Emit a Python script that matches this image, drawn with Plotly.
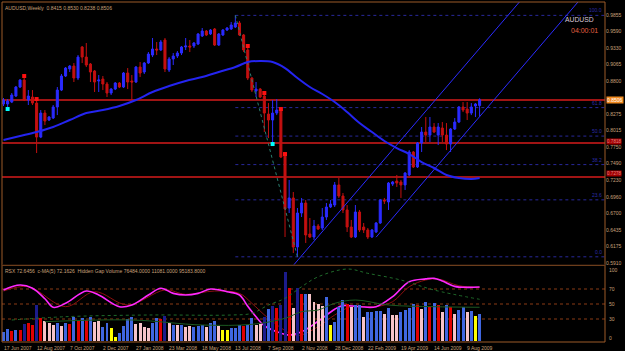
import plotly.graph_objects as go

# ---------------- data ----------------
date_labels = ["17 Jun 2007", "12 Aug 2007", "7 Oct 2007", "2 Dec 2007", "27 Jan 2008",
               "23 Mar 2008", "18 May 2008", "13 Jul 2008", "7 Sep 2008", "2 Nov 2008",
               "28 Dec 2008", "22 Feb 2009", "19 Apr 2009", "14 Jun 2009", "9 Aug 2009"]
date_bars = [0, 8, 16, 24, 32, 40, 48, 56, 64, 72, 80, 88, 96, 104, 112]

opens = [0.8439, 0.8439, 0.8470, 0.8566, 0.8709, 0.8820, 0.8502, 0.8550, 0.8454, 0.7913,
         0.8295, 0.8184, 0.8216, 0.8391, 0.8661, 0.8884, 0.8996, 0.9043, 0.8852, 0.9346,
         0.9186, 0.9075, 0.8964, 0.8805, 0.8836, 0.8757, 0.8614, 0.8677, 0.8773, 0.8709,
         0.8932, 0.8805, 0.8789, 0.9027, 0.8948, 0.9091, 0.9218, 0.9314, 0.9298, 0.9457,
         0.8980, 0.9155, 0.9202, 0.9250, 0.9346, 0.9362, 0.9362, 0.9393, 0.9521, 0.9600,
         0.9553, 0.9632, 0.9377, 0.9537, 0.9616, 0.9632, 0.9664, 0.9728, 0.9537, 0.9298,
         0.8852, 0.8645, 0.8677, 0.8566, 0.8279, 0.8184, 0.8295, 0.8359, 0.7659, 0.6784,
         0.6944, 0.6164, 0.6705, 0.6864, 0.6371, 0.6323, 0.6498, 0.6466, 0.6641, 0.6800,
         0.6832, 0.7151, 0.6975, 0.6753, 0.6482, 0.6323, 0.6721, 0.6482, 0.6435, 0.6323,
         0.6403, 0.6546, 0.6912, 0.6880, 0.7166, 0.7214, 0.7198, 0.7151, 0.7310, 0.7675,
         0.7437, 0.7818, 0.7993, 0.7945, 0.8073, 0.7945, 0.8057, 0.7945, 0.7802, 0.8041,
         0.8152, 0.8391, 0.8359, 0.8295, 0.8407, 0.8415]
highs = [0.8534, 0.8518, 0.8614, 0.8725, 0.8836, 0.8884, 0.8661, 0.8661, 0.8518, 0.8343,
         0.8343, 0.8248, 0.8423, 0.8709, 0.8916, 0.9027, 0.9059, 0.9091, 0.9218, 0.9362,
         0.9409, 0.9091, 0.8980, 0.8900, 0.8884, 0.8789, 0.8693, 0.8789, 0.8789, 0.8948,
         0.9011, 0.8900, 0.9043, 0.9107, 0.9107, 0.9266, 0.9489, 0.9425, 0.9457, 0.9489,
         0.9186, 0.9250, 0.9282, 0.9362, 0.9489, 0.9457, 0.9425, 0.9568, 0.9648, 0.9616,
         0.9632, 0.9648, 0.9568, 0.9632, 0.9664, 0.9744, 0.9849, 0.9760, 0.9553, 0.9377,
         0.8868, 0.8789, 0.8693, 0.8614, 0.8454, 0.8502, 0.8518, 0.8375, 0.7675, 0.7230,
         0.7039, 0.6784, 0.6944, 0.6912, 0.6625, 0.6594, 0.6530, 0.6784, 0.6864, 0.6912,
         0.7198, 0.7262, 0.7023, 0.6832, 0.6594, 0.6832, 0.6753, 0.6546, 0.6466, 0.6450,
         0.6562, 0.6928, 0.6944, 0.7198, 0.7214, 0.7310, 0.7230, 0.7357, 0.7706, 0.7691,
         0.7834, 0.8073, 0.8232, 0.8232, 0.8136, 0.8136, 0.8152, 0.8136, 0.8057, 0.8216,
         0.8407, 0.8470, 0.8470, 0.8454, 0.8454, 0.8530]
lows = [0.8407, 0.8391, 0.8454, 0.8550, 0.8693, 0.8486, 0.8423, 0.8423, 0.7659, 0.7897,
        0.8104, 0.8168, 0.8200, 0.8263, 0.8645, 0.8868, 0.8948, 0.8789, 0.8820, 0.9091,
        0.9027, 0.8789, 0.8630, 0.8630, 0.8661, 0.8550, 0.8582, 0.8661, 0.8693, 0.8693,
        0.8677, 0.8502, 0.8773, 0.8868, 0.8916, 0.9075, 0.9186, 0.9218, 0.9282, 0.8948,
        0.8948, 0.9059, 0.9171, 0.9218, 0.9298, 0.9266, 0.9330, 0.9377, 0.9505, 0.9521,
        0.9537, 0.9362, 0.9362, 0.9521, 0.9600, 0.9616, 0.9648, 0.9521, 0.9266, 0.8820,
        0.8630, 0.8550, 0.8534, 0.7993, 0.7897, 0.7818, 0.8263, 0.7579, 0.6323, 0.6705,
        0.6069, 0.6005, 0.6641, 0.6228, 0.6307, 0.6276, 0.6435, 0.6435, 0.6594, 0.6784,
        0.6800, 0.6944, 0.6705, 0.6403, 0.6307, 0.6307, 0.6403, 0.6387, 0.6291, 0.6307,
        0.6387, 0.6530, 0.6848, 0.6753, 0.7135, 0.7119, 0.6944, 0.7071, 0.7294, 0.7421,
        0.7421, 0.7675, 0.7834, 0.7834, 0.7977, 0.7786, 0.7834, 0.7706, 0.7675, 0.8025,
        0.8136, 0.8311, 0.8184, 0.8263, 0.8232, 0.8238]
closes = [0.8502, 0.8486, 0.8582, 0.8709, 0.8820, 0.8502, 0.8566, 0.8454, 0.7913, 0.8295,
          0.8168, 0.8232, 0.8391, 0.8661, 0.8884, 0.9011, 0.9043, 0.8852, 0.9186, 0.9186,
          0.9059, 0.8948, 0.8789, 0.8820, 0.8757, 0.8614, 0.8677, 0.8773, 0.8709, 0.8932,
          0.8789, 0.8789, 0.9027, 0.8932, 0.9091, 0.9234, 0.9314, 0.9298, 0.9425, 0.8996,
          0.9155, 0.9202, 0.9250, 0.9346, 0.9362, 0.9346, 0.9409, 0.9553, 0.9600, 0.9537,
          0.9616, 0.9377, 0.9553, 0.9616, 0.9648, 0.9696, 0.9728, 0.9537, 0.9298, 0.8852,
          0.8661, 0.8677, 0.8550, 0.8295, 0.8184, 0.8295, 0.8343, 0.7595, 0.6769, 0.6944,
          0.6164, 0.6705, 0.6864, 0.6355, 0.6323, 0.6498, 0.6450, 0.6641, 0.6800, 0.6848,
          0.7151, 0.6975, 0.6753, 0.6482, 0.6323, 0.6721, 0.6435, 0.6435, 0.6323, 0.6435,
          0.6546, 0.6912, 0.6896, 0.7182, 0.7198, 0.7182, 0.7151, 0.7341, 0.7675, 0.7437,
          0.7818, 0.7993, 0.7945, 0.8073, 0.7993, 0.8073, 0.7945, 0.7802, 0.8041, 0.8152,
          0.8391, 0.8343, 0.8295, 0.8391, 0.8439, 0.8506]

# moving average on price (sampled bars)
ma_bars = [0, 4, 8, 12, 16, 20, 24, 28, 32, 36, 40, 44, 48, 52, 56, 59, 62, 65, 68, 71,
           74, 77, 80, 83, 86, 89, 92, 95, 98, 101, 104, 107, 110, 113, 115]
ma_vals = [0.7866, 0.7929, 0.7993, 0.8073, 0.8184, 0.8295, 0.8343, 0.8407, 0.8502, 0.8630,
           0.8725, 0.8805, 0.8868, 0.8948, 0.9027, 0.9107, 0.9123, 0.9107, 0.9011, 0.8852,
           0.8709, 0.8598, 0.8470, 0.8311, 0.8136, 0.7993, 0.7850, 0.7738, 0.7643, 0.7516,
           0.7421, 0.7310, 0.7262, 0.7246, 0.7262]

# horizontal lines, fibonacci, channel
hlines = [0.8503, 0.7818, 0.7278]
hline_labels = ["0.8503", "0.7818", "0.7278"]
fib_low, fib_high = 0.6008, 0.9849
fib_start_bar = 56
fib_levels = [0.0, 0.236, 0.382, 0.5, 0.618, 1.0]
fib_texts = ["0.0", "23.6", "38.2", "50.0", "61.8", "100.0"]
fib_diag_bars = [56, 71]
chan_upper_bars, chan_upper_px = [70, 125], [0.5871, 1.0091]
chan_lower_bars, chan_lower_px = [90, 139], [0.6320, 1.0080]
cyan_bars, cyan_px = [1, 65], [0.8359, 0.7802]
sig_bars = [5, 8, 59, 63, 67, 68]
sig_px = [0.8884, 0.8518, 0.9362, 0.8614, 0.8359, 0.7643]

price_ticks = [0.9855, 0.9590, 0.9330, 0.9065, 0.8800, 0.8275, 0.8015, 0.7750, 0.7490,
               0.7230, 0.6960, 0.6700, 0.6435, 0.6175, 0.5910]
last_price = 0.8506

# lower panel: hidden gap volume (thousands) and colour codes
volume_k = [27.3, 34.8, 29.2, 32.0, 32.0, 48.7, 51.4, 45.9, 101.5, 65.4,
            57.0, 51.4, 45.9, 51.4, 43.1, 51.4, 48.7, 68.1, 57.0, 65.4,
            59.8, 68.1, 54.2, 57.0, 40.3, 51.4, 37.5, 12.5, 23.6, 43.1,
            62.6, 68.1, 48.7, 51.4, 40.3, 37.5, 51.4, 65.4, 62.6, 70.9,
            51.4, 45.9, 45.9, 45.9, 40.3, 43.1, 40.3, 43.1, 45.9, 40.3,
            51.4, 57.0, 43.1, 32.0, 32.0, 37.5, 37.5, 45.9, 43.1, 45.9,
            65.4, 45.9, 48.7, 68.1, 90.4, 98.7, 93.2, 101.5, 193.3, 148.8,
            93.2, 148.8, 132.1, 132.1, 132.1, 109.8, 104.3, 98.7, 123.8, 45.9,
            54.2, 95.9, 115.4, 104.3, 95.9, 101.5, 101.5, 68.1, 82.0, 82.0,
            84.8, 84.8, 76.5, 93.2, 73.7, 73.7, 82.0, 87.6, 93.2, 104.3,
            101.5, 90.4, 109.8, 95.9, 107.1, 101.5, 82.0, 101.5, 95.9, 76.5,
            87.6, 95.9, 82.0, 84.8, 70.9, 76.484]
volume_codes = ("BBRBRNRRNRPPPBPBRBRBRBPPBBYYBBBBPPPPBBRNPBPBPPBBBPBBPYYBBBRBBPPNBNRNNRPNRBPPPPBY"
                "BBBRPBBPBBBBPBPPBBBBRPBRBRPBRPBBPBYB")

rsx_bars = [0, 4, 7, 10, 12, 15, 20, 23, 28, 31, 35, 38, 41, 44, 47, 50, 54, 57, 59, 61,
            63, 66, 69, 72, 76, 80, 82, 86, 90, 94, 98, 102, 104, 106, 109, 112, 115]
rsx_vals = [68.7, 75.3, 71.0, 57.0, 45.6, 50.9, 67.3, 62.0, 46.4, 48.7, 62.0, 71.0, 64.2,
            62.0, 64.2, 70.0, 66.4, 62.0, 47.0, 33.0, 21.0, 13.0, 8.5, 13.0, 27.0, 43.0,
            47.8, 46.4, 46.4, 59.8, 79.8, 83.5, 84.2, 80.7, 73.5, 72.2, 72.65]
cma_bars = [0, 6, 15, 22, 30, 39, 44, 51, 57, 60, 64, 70, 72, 76, 80, 84, 90, 94, 98, 102,
            105, 110, 115]
cma_vals = [67.3, 73.1, 46.4, 66.4, 48.7, 68.7, 62.9, 67.3, 64.2, 50.9, 30.9, 8.7, 8.7,
            19.8, 35.3, 46.4, 46.4, 53.1, 73.1, 82.0, 83.3, 74.4, 72.16]
vma_long_bars = [2, 15, 35, 55, 60, 64, 68, 72, 76, 83, 88, 96, 104, 115]
vma_long_k = [59.8, 69.0, 73.7, 73.7, 78.4, 101.5, 120.1, 152.4, 180.0, 201.6, 189.7,
              171.0, 143.2, 117.4]
vma_short_bars = [10, 31, 48, 60, 68, 72, 76, 80, 85, 93, 104, 115]
vma_short_k = [55.1, 59.8, 45.9, 47.8, 64.5, 82.9, 87.6, 106.2, 115.4, 101.5, 96.8, 95.18]

# ---------------- styling ----------------
BG = "#000000"
FRAME = "#9c5a28"
TXT = "#c9a07a"
BLUE = "#2b2bff"
RED = "#c41010"
FONT = "Liberation Sans, Arial, sans-serif"
code_colors = {"B": "#3f66e0", "R": "#e00000", "P": "#f6c3c8", "Y": "#ffff00", "N": "#1c1c8c"}

n = len(closes)
idx = list(range(n))

fig = go.Figure()

# channel lines and fib diagonal (under candles)
fig.add_trace(go.Scatter(x=chan_upper_bars, y=chan_upper_px, mode="lines",
                         line=dict(color=BLUE, width=1), hoverinfo="skip"))
fig.add_trace(go.Scatter(x=chan_lower_bars, y=chan_lower_px, mode="lines",
                         line=dict(color=BLUE, width=1), hoverinfo="skip"))
fig.add_trace(go.Scatter(x=fib_diag_bars, y=[fib_high, fib_low], mode="lines",
                         line=dict(color="#2a7f70", width=1, dash="dot"), hoverinfo="skip"))

fig.add_trace(go.Candlestick(
    x=idx, open=opens, high=highs, low=lows, close=closes,
    increasing=dict(line=dict(color=BLUE, width=1), fillcolor=BLUE),
    decreasing=dict(line=dict(color=RED, width=1), fillcolor=RED),
    whiskerwidth=0, hoverinfo="skip"))

fig.add_trace(go.Scatter(x=ma_bars, y=ma_vals, mode="lines",
                         line=dict(color="#2424f0", width=2, shape="spline"), hoverinfo="skip"))

fig.add_trace(go.Scatter(x=cyan_bars, y=cyan_px, mode="markers",
                         marker=dict(symbol="square", size=4, color="#00ffff"), hoverinfo="skip"))
fig.add_trace(go.Scatter(x=sig_bars, y=sig_px, mode="markers",
                         marker=dict(symbol="square", size=4, color="#ff1010"), hoverinfo="skip"))

# lower panel
fig.add_trace(go.Bar(x=idx, y=volume_k, yaxis="y3", width=0.72,
                     marker=dict(color=[code_colors[c] for c in volume_codes], line=dict(width=0)),
                     hoverinfo="skip"))
fig.add_trace(go.Scatter(x=vma_long_bars, y=vma_long_k, yaxis="y3", mode="lines",
                         line=dict(color="#1f6b2a", width=1, dash="dot", shape="spline"),
                         hoverinfo="skip"))
fig.add_trace(go.Scatter(x=vma_short_bars, y=vma_short_k, yaxis="y3", mode="lines",
                         line=dict(color="#1c5a22", width=1, shape="spline"), hoverinfo="skip"))
fig.add_trace(go.Scatter(x=cma_bars, y=cma_vals, yaxis="y2", mode="lines",
                         line=dict(color="#8c1010", width=1, shape="spline"), hoverinfo="skip"))
fig.add_trace(go.Scatter(x=rsx_bars, y=rsx_vals, yaxis="y2", mode="lines",
                         line=dict(color="#ff28ff", width=1.6, shape="spline"), hoverinfo="skip"))

shapes = []
for lv in hlines:
    shapes.append(dict(type="line", xref="paper", x0=0, x1=1, yref="y", y0=lv, y1=lv,
                       line=dict(color="#a01414", width=2), layer="below"))
for f in fib_levels:
    p = fib_low + f * (fib_high - fib_low)
    shapes.append(dict(type="line", xref="x", x0=fib_start_bar, x1=146, yref="y", y0=p, y1=p,
                       line=dict(color="#28289a", width=1, dash="dot"), layer="below"))
for lv in [70, 50, 30]:
    shapes.append(dict(type="line", xref="paper", x0=0, x1=1, yref="y2", y0=lv, y1=lv,
                       line=dict(color="#8a3a14", width=1, dash="dot"), layer="below"))
# frame
for (x0, y0, x1, y1) in [(0, 0, 0, 1), (1, 0, 1, 1), (0, 1, 1, 1), (0, 0, 1, 0)]:
    shapes.append(dict(type="line", xref="paper", yref="paper", x0=x0, x1=x1, y0=y0, y1=y1,
                       line=dict(color=FRAME, width=1)))
shapes.append(dict(type="line", xref="paper", yref="paper", x0=0, x1=1, y0=0.2250, y1=0.2250,
                   line=dict(color=FRAME, width=1)))
shapes.append(dict(type="line", xref="paper", yref="paper", x0=0, x1=1, y0=0.2265, y1=0.2265,
                   line=dict(color="#3a2010", width=1)))

ann = []
ann.append(dict(text="AUDUSD,Weekly  0.8415 0.8530 0.8238 0.8506", xref="paper", yref="paper",
                x=0.002, y=0.997, xanchor="left", yanchor="top", showarrow=False,
                font=dict(size=5, color=TXT, family=FONT)))
ann.append(dict(text="RSX 72.6456  c-MA(5) 72.1626  Hidden Gap Volume 76484.0000 11081.0000 95183.8000",
                xref="paper", yref="paper", x=0.002, y=0.2235, xanchor="left", yanchor="top",
                showarrow=False, font=dict(size=5, color=TXT, family=FONT)))
ann.append(dict(text="AUDUSD", xref="paper", yref="y", x=0.985, y=0.9780, xanchor="right",
                yanchor="middle", showarrow=False, font=dict(size=6.8, color="#d8c8d8", family=FONT)))
ann.append(dict(text="04:00:01", xref="paper", yref="y", x=0.992, y=0.9610, xanchor="right",
                yanchor="middle", showarrow=False, font=dict(size=7, color="#e06040", family=FONT)))
for f, t in zip(fib_levels, fib_texts):
    p = fib_low + f * (fib_high - fib_low)
    ann.append(dict(text=t, xref="paper", yref="y", x=0.999, y=p, xanchor="right", yanchor="bottom",
                    showarrow=False, font=dict(size=5, color="#2c2ca8", family=FONT)))
for d, b in zip(date_labels, date_bars):
    ann.append(dict(text=d, xref="x", yref="paper", x=b, y=0, xanchor="left", yanchor="top",
                    xshift=-2, yshift=-1, showarrow=False, font=dict(size=5, color=TXT, family=FONT)))
for lv, lab in [(94.7, "100"), (70, "70"), (50, "50"), (30, "30"), (4.7, "0")]:
    ann.append(dict(text=lab, xref="paper", yref="y2", x=1, y=lv, xanchor="left", yanchor="middle",
                    xshift=2, showarrow=False, font=dict(size=5, color=TXT, family=FONT)))
for lv, lab, ys in zip(hlines[1:], hline_labels[1:], [2, 3]):
    ann.append(dict(text=lab, xref="paper", yref="y", x=1, y=lv, xanchor="left", yanchor="middle",
                    xshift=1, yshift=ys, showarrow=False, bgcolor="#a00000", borderpad=0,
                    font=dict(size=4.6, color="#e08080", family=FONT)))
ann.append(dict(text="0.8506", xref="paper", yref="y", x=1, y=last_price, xanchor="left",
                yanchor="middle", xshift=1, showarrow=False, bgcolor="#f08a20", borderpad=0,
                font=dict(size=5, color="#ffffff", family=FONT)))

fig.update_layout(
    width=625, height=351, margin=dict(l=2, r=20, t=2, b=9),
    paper_bgcolor=BG, plot_bgcolor=BG, showlegend=False, bargap=0,
    xaxis=dict(range=[-0.362, 145.29], showgrid=False, zeroline=False, showticklabels=False,
               ticks="", rangeslider=dict(visible=False), anchor="y2", fixedrange=True),
    yaxis=dict(domain=[0.22647, 1], range=[0.58777, 1.00618], side="right", showgrid=False,
               zeroline=False, tickmode="array", tickvals=price_ticks,
               ticktext=["%.4f" % v for v in price_ticks],
               tickfont=dict(size=5, color=TXT, family=FONT), ticks="", anchor="x"),
    yaxis2=dict(domain=[0, 0.2235], range=[-0.67, 100.67], showgrid=False, zeroline=False,
                showticklabels=False, anchor="x"),
    yaxis3=dict(overlaying="y2", range=[-1.4, 210], showgrid=False, zeroline=False,
                showticklabels=False, anchor="x"),
    shapes=shapes, annotations=ann,
)

fig.write_html("out.html")
